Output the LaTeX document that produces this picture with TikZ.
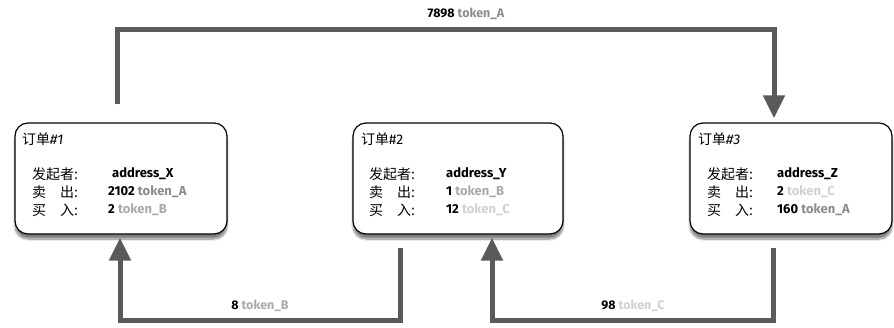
\documentclass[tikz,border=0pt]{standalone}
\usepackage{fontspec}
\setmainfont{Fira Sans}
\newfontfamily\cjk{Noto Sans CJK SC}
\usepackage{xcolor}
\usetikzlibrary{positioning,arrows.meta,shadows.blur}
\definecolor{flowgray}{RGB}{90,90,90}
\definecolor{tokA}{RGB}{140,140,140}
\definecolor{tokB}{RGB}{170,170,170}
\definecolor{tokC}{RGB}{208,208,208}

\begin{document}
\begin{tikzpicture}[x=1pt,y=-1pt,
    order/.style={rectangle,draw=black,line width=1.2pt,rounded corners=13pt,fill=white,
        minimum height=111pt,inner sep=0pt,
        blur shadow={shadow xshift=0pt,shadow yshift=-5pt,shadow blur steps=8,shadow opacity=50}},
    title/.style={anchor=west,inner sep=0pt,font=\cjk\fontsize{14}{16}\selectfont},
    field/.style={anchor=west,inner sep=0pt,font=\cjk\fontsize{14}{16}\selectfont},
    amount/.style={anchor=west,inner sep=0pt,font=\bfseries\fontsize{13}{15}\selectfont},
    volume/.style={inner sep=0pt,font=\bfseries\fontsize{12.5}{14}\selectfont},
    flow/.style={draw=flowgray,line width=5pt,-{Triangle[length=23pt,width=21pt]}}
]
    \useasboundingbox (0,0) rectangle (894,327);

    % Orders
    \node[order,minimum width=212pt] (order1) at (121,178.5) {};
    \node[order,minimum width=210pt] (order2) at (458,178.5) {};
    \node[order,minimum width=202pt] (order3) at (791,178.5) {};

    % Order #1
    \node[title] (t1) at (22,139) {订单{\fontspec{Fira Sans}\itshape\#1}};
    \node[field] (f1a) at (32,174) {发起者:};
    \node[field] (f1b) at (32,192) {卖\hspace{1em}出:};
    \node[field] (f1c) at (32,210) {买\hspace{1em}入:};
    \node[amount] (v1a) at (112,174) {address\_X};
    \node[amount] (v1b) at (108,192) {2102 \textcolor{tokA}{token\_A}};
    \node[amount] (v1c) at (108,210) {2 \textcolor{tokB}{token\_B}};

    % Order #2
    \node[title] (t2) at (361,139) {订单{\fontspec{Fira Sans}\#2}};
    \node[field] (f2a) at (369,174) {发起者:};
    \node[field] (f2b) at (369,192) {卖\hspace{1em}出:};
    \node[field] (f2c) at (369,210) {买\hspace{1em}入:};
    \node[amount] (v2a) at (446,174) {address\_Y};
    \node[amount] (v2b) at (446,192) {1 \textcolor{tokB}{token\_B}};
    \node[amount] (v2c) at (446,210) {12 \textcolor{tokC}{token\_C}};

    % Order #3
    \node[title] (t3) at (698,139) {订单{\fontspec{Fira Sans}\itshape\#3}};
    \node[field] (f3a) at (707,174) {发起者:};
    \node[field] (f3b) at (707,192) {卖\hspace{1em}出:};
    \node[field] (f3c) at (707,210) {买\hspace{1em}入:};
    \node[amount] (v3a) at (777,174) {address\_Z};
    \node[amount] (v3b) at (777,192) {2 \textcolor{tokC}{token\_C}};
    \node[amount] (v3c) at (777,210) {160 \textcolor{tokA}{token\_A}};

    % Transfers
    \draw[flow] ([xshift=-4pt,yshift=18pt]order1.north) -- ++(0,-75) -| ([xshift=-17pt,yshift=4pt]order3.north);
    \draw[flow] ([xshift=-58pt,yshift=-13pt]order2.south) -- ++(0,73) -| ([xshift=-1pt,yshift=-3pt]order1.south);
    \draw[flow] ([xshift=-18pt,yshift=-13pt]order3.south) -- ++(0,73) -| ([xshift=34pt,yshift=-3pt]order2.south);

    \node[volume] (x13) at (466,14) {7898 \textcolor{tokA}{token\_A}};
    \node[volume] (x21) at (260,306) {8 \textcolor{tokB}{token\_B}};
    \node[volume] (x32) at (633,306) {98 \textcolor{tokC}{token\_C}};
\end{tikzpicture}
\end{document}
